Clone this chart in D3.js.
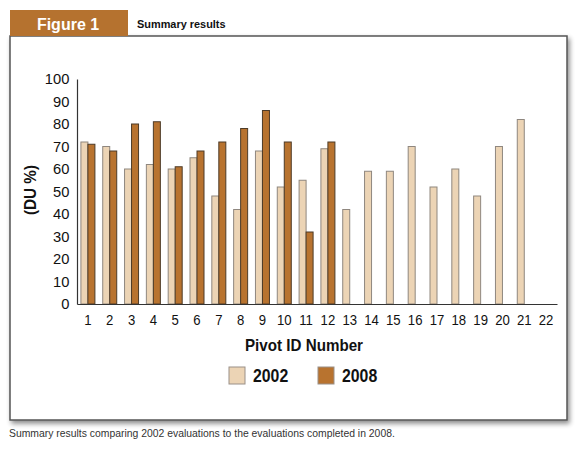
<!DOCTYPE html>
<html>
<head>
<meta charset="utf-8">
<script src="https://cdn.jsdelivr.net/npm/d3@7"></script>
<style>
  body { margin: 0; background: #fff; }
  svg { display: block; }
</style>
</head>
<body>
<div id="chart"></div>
<script>
// Chart data
let pivots = d3.range(1, 23).map(String);
let years = ['2002', '2008'];
let du2002 = [72, 70, 60, 62, 60, 65, 48, 42, 68, 52, 55, 69, 42, 59, 59, 70, 52, 60, 48, 70, 82, null];
let du2008 = [71, 68, 80, 81, 61, 68, 72, 78, 86, 72, 32, 72, null, null, null, null, null, null, null, null, null, null];
let yTicks = d3.range(0, 101, 10);

let width = 575;
let height = 456;
let font = '"Liberation Sans", Arial, Helvetica, sans-serif';

let svg = d3.select('#chart').append('svg')
    .attr('width', width)
    .attr('height', height);

// Adds text squeezed horizontally (the original uses a condensed face)
function squeezed(parent, x, y, str, size, sx, opts) {
    opts = opts || {};
    let g = parent.append('g')
        .attr('transform', `translate(${x},${y})` + (opts.rotate ? ` rotate(${opts.rotate})` : ''));
    return g.append('text')
        .attr('transform', `scale(${sx},1)`)
        .attr('text-anchor', opts.anchor || 'start')
        .attr('font-family', font)
        .attr('font-weight', opts.bold ? 'bold' : 'normal')
        .attr('font-size', size)
        .attr('fill', opts.fill || '#111')
        .text(str);
}

// Drop shadow for the frame
let defs = svg.append('defs');
let shadow = defs.append('filter').attr('id', 'shadow')
    .attr('x', '-5%').attr('y', '-5%').attr('width', '110%').attr('height', '110%');
shadow.append('feGaussianBlur').attr('in', 'SourceAlpha').attr('stdDeviation', 2.5);
shadow.append('feOffset').attr('dx', 2).attr('dy', 3).attr('result', 'off');
shadow.append('feComponentTransfer').append('feFuncA').attr('type', 'linear').attr('slope', 0.45);
let merge = shadow.append('feMerge');
merge.append('feMergeNode');
merge.append('feMergeNode').attr('in', 'SourceGraphic');

// Frame and header tab
svg.append('rect')
    .attr('x', 10).attr('y', 36).attr('width', 557).attr('height', 384)
    .attr('fill', '#fff').attr('stroke', '#555').attr('stroke-width', 1.5)
    .attr('filter', 'url(#shadow)');

svg.append('rect')
    .attr('x', 10).attr('y', 10).attr('width', 118).attr('height', 26)
    .attr('fill', '#b5722f');

squeezed(svg, 68, 30, 'Figure 1', 16, 1, { anchor: 'middle', bold: true, fill: '#fff' });
squeezed(svg, 137, 28, 'Summary results', 11.5, 0.95, { bold: true });

// Scales
let x = d3.scaleBand().domain(pivots).range([77, 557]);
let x1 = d3.scaleBand().domain(years).range([x.bandwidth() / 2 - 7, x.bandwidth() / 2 + 7]);
let y = d3.scaleLinear().domain([0, 100]).range([304, 79]);
let color = d3.scaleOrdinal().domain(years).range(['#ecd4b5', '#b8732f']);
let edge = d3.scaleOrdinal().domain(years).range(['#8f877f', '#4d3b28']);

let series = [
    { year: '2002', values: du2002 },
    { year: '2008', values: du2008 }
];

// Bars
series.forEach(s => {
    svg.append('g').selectAll('rect')
        .data(pivots.map((p, i) => ({ pivot: p, value: s.values[i] })).filter(d => d.value !== null))
        .enter().append('rect')
        .attr('x', d => x(d.pivot) + x1(s.year))
        .attr('y', d => y(d.value))
        .attr('width', x1.bandwidth())
        .attr('height', d => y(0) - y(d.value))
        .attr('fill', color(s.year))
        .attr('stroke', edge(s.year))
        .attr('stroke-width', 1);
});

// Axes
let yAxis = svg.append('g')
    .attr('transform', 'translate(77,0)')
    .call(d3.axisLeft(y).tickValues(yTicks).tickSize(0).tickPadding(8));
yAxis.select('.domain').attr('stroke', '#333').attr('stroke-width', 1.2);
yAxis.selectAll('text')
    .attr('font-family', font).attr('font-size', 15.5).attr('fill', '#111')
    .attr('transform', 'scale(0.95,1)');

let xAxis = svg.append('g')
    .attr('transform', 'translate(0,304)')
    .call(d3.axisBottom(x).tickSize(0).tickPadding(11));
xAxis.select('.domain').attr('stroke', '#333').attr('stroke-width', 1.2);
xAxis.selectAll('text')
    .attr('font-family', font).attr('font-size', 14).attr('fill', '#111')
    .attr('transform', 'scale(0.94,1)');

// Axis titles
squeezed(svg, 304, 351, 'Pivot ID Number', 16.5, 0.92, { anchor: 'middle', bold: true });
squeezed(svg, 36, 190, '(DU %)', 17, 0.9, { anchor: 'middle', bold: true, rotate: -90 });

// Legend
let legend = svg.append('g').selectAll('g')
    .data(years).enter().append('g')
    .attr('transform', (d, i) => `translate(${229 + i * 89},367)`);
legend.append('rect')
    .attr('width', 16).attr('height', 17)
    .attr('fill', d => color(d))
    .attr('stroke', '#9a9088').attr('stroke-width', 1);
legend.each(function (d) {
    squeezed(d3.select(this), 24, 15, d, 18, 0.88, { bold: true });
});

// Caption
svg.append('text')
    .attr('x', 9).attr('y', 437)
    .attr('font-family', font)
    .attr('font-size', 10.4)
    .attr('fill', '#333')
    .text('Summary results comparing 2002 evaluations to the evaluations completed in 2008.');
</script>
</body>
</html>
